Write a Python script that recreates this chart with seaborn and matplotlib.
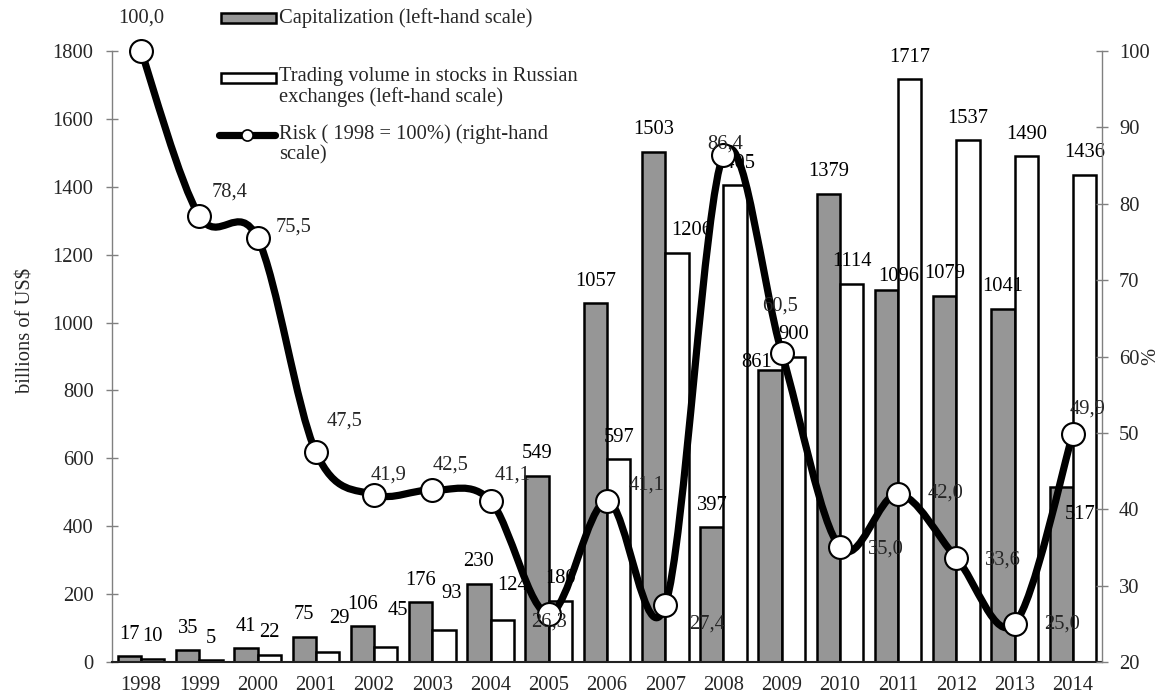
import numpy as np
import pandas as pd
import matplotlib
matplotlib.use("Agg")
import matplotlib.pyplot as plt
import seaborn as sns
from matplotlib.path import Path
from matplotlib.patches import PathPatch, Rectangle
from matplotlib.lines import Line2D

# ---------------- data ----------------
years = [str(y) for y in range(1998, 2015)]
capitalization = [17, 35, 41, 75, 106, 176, 230, 549, 1057, 1503, 397, 861, 1379, 1096, 1079, 1041, 517]
trading_volume = [10, 5, 22, 29, 45, 93, 124, 180, 597, 1206, 1405, 900, 1114, 1717, 1537, 1490, 1436]
risk = [100.0, 78.4, 75.5, 47.5, 41.9, 42.5, 41.1, 26.3, 41.1, 27.4, 86.4, 60.5, 35.0, 42.0, 33.6, 25.0, 49.9]

cap_name = "Capitalization (left-hand scale)"
vol_name = "Trading volume in stocks in Russian\nexchanges (left-hand scale)"
risk_name = "Risk ( 1998 = 100%) (right-hand\nscale)"
left_ticks = list(range(0, 1801, 200))
right_ticks = list(range(20, 101, 10))

# ---------------- styling / layout ----------------
W, H = 1168, 696
GRAY = "#969696"
AXC = "#808080"
FS = 14.8

sns.set_theme(style="white")
plt.rcParams["font.family"] = ["Liberation Serif", "DejaVu Serif"]
plt.rcParams["font.size"] = FS

# label nudges in pixels (dx, dy up) relative to default placement
cap_nudge = {"2009": (-13, -15), "2011": (12, -9), "2014": (19, -50)}
vol_nudge = {"2001": (12, 12), "2002": (12, 14), "2003": (8, 15), "2004": (10, 12), "2007": (15, 0)}
risk_offsets = [(0, 33), (30, 24), (36, 11), (29, 31), (15, 20), (18, 25), (22, 26), (0, -8),
                (40, 16), (42, -19), (2, 11), (-2, 47), (46, -2), (47, 1), (46, -2), (47, 0), (15, 25)]

fig = plt.figure(figsize=(W / 100, H / 100), dpi=100)
fig.patch.set_facecolor("white")
ax = fig.add_axes([112 / W, 1 - 662 / H, 990 / W, 611 / H])

df = pd.DataFrame({
    "year": years * 2,
    "series": [cap_name] * len(years) + [vol_name] * len(years),
    "value": capitalization + trading_volume,
})
sns.barplot(data=df, x="year", y="value", hue="series", hue_order=[cap_name, vol_name],
            palette=[GRAY, "white"], edgecolor="black", linewidth=1.8, saturation=1,
            width=0.8, gap=0, legend=False, ax=ax)

# bar value labels
for cont, vals, nudge in zip(ax.containers, [capitalization, trading_volume], [cap_nudge, vol_nudge]):
    for j, p in enumerate(cont.patches):
        dx, dy = nudge.get(years[j], (0, 0))
        ax.annotate(str(vals[j]), xy=(p.get_x() + p.get_width() / 2, p.get_height()),
                    xytext=(dx, 22 + dy), textcoords="offset pixels",
                    ha="center", va="center", fontsize=FS, color="black")

ax.set_xlim(-0.5, len(years) - 0.5)
ax.set_ylim(0, 1800)
ax.set_yticks(left_ticks)
ax.set_xticks(range(len(years)))
ax.set_xticklabels(years)
ax.set_xticks(np.arange(-0.5, len(years), 1.0), minor=True)
ax.set_xlabel("")
ax.set_ylabel("billions of US$", fontsize=FS)
ax.yaxis.set_label_coords((36 - 112) / 990, (662 - 330) / 611)
ax.tick_params(axis="x", which="major", length=0, pad=10.3, labelsize=FS)
ax.tick_params(axis="x", which="minor", direction="inout", length=7, width=1.0, color="#333333")
ax.tick_params(axis="y", direction="inout", length=8.6, width=1.0, color=AXC, pad=9.0,
               labelsize=FS, left=True)
for s in ["top", "right"]:
    ax.spines[s].set_visible(False)
ax.spines["left"].set_color(AXC)
ax.spines["left"].set_linewidth(1.0)
ax.spines["bottom"].set_color("#222222")
ax.spines["bottom"].set_linewidth(1.5)

# ---------------- risk line (right axis) ----------------
ax2 = ax.twinx()
ax2.set_ylim(20, 100)
ax2.set_yticks(right_ticks)
ax2.tick_params(axis="y", direction="inout", length=8.6, width=1.0, color=AXC, pad=8,
                labelsize=FS, right=True)
for s in ["top", "left", "bottom"]:
    ax2.spines[s].set_visible(False)
ax2.spines["right"].set_color(AXC)
ax2.spines["right"].set_linewidth(1.0)
ax2.set_ylabel("%", fontsize=FS)
ax2.yaxis.set_label_coords((1141 - 112) / 990, 0.5)

xs = np.arange(len(risk), dtype=float)
ys = np.asarray(risk, dtype=float)
n = len(xs)
verts = [(xs[0], ys[0])]
codes = [Path.MOVETO]
for i in range(n - 1):
    i0, i3 = max(i - 1, 0), min(i + 2, n - 1)
    c1 = (xs[i] + (xs[i + 1] - xs[i0]) / 6, ys[i] + (ys[i + 1] - ys[i0]) / 6)
    c2 = (xs[i + 1] - (xs[i3] - xs[i]) / 6, ys[i + 1] - (ys[i3] - ys[i]) / 6)
    verts += [c1, c2, (xs[i + 1], ys[i + 1])]
    codes += [Path.CURVE4] * 3
ax2.add_patch(PathPatch(Path(verts, codes), fill=False, edgecolor="black", lw=5.2,
                        capstyle="round", joinstyle="round", zorder=3))
ax2.plot(xs, ys, linestyle="none", marker="o", ms=16.5, mfc="white", mec="black",
         mew=1.5, zorder=4, clip_on=False)
for i, v in enumerate(risk):
    dx, dy = risk_offsets[i]
    ax2.annotate(f"{v:.1f}".replace(".", ","), xy=(xs[i], v), xytext=(dx, dy),
                 textcoords="offset pixels", ha="center", va="center", fontsize=FS,
                 zorder=5, annotation_clip=False)

# ---------------- legend (manual, figure pixels) ----------------
def fx(x):
    return x / W


def fy(y):
    return 1 - y / H


fig.add_artist(Rectangle((fx(221), fy(23)), 55 / W, 10 / H, facecolor=GRAY, edgecolor="black",
                         lw=1.8, transform=fig.transFigure))
fig.add_artist(Rectangle((fx(221), fy(83)), 55 / W, 10 / H, facecolor="white", edgecolor="black",
                         lw=1.8, transform=fig.transFigure))
fig.add_artist(Line2D([fx(219), fx(275)], [fy(135), fy(135)], lw=5.2, color="black",
                      solid_capstyle="round", transform=fig.transFigure))
fig.add_artist(Line2D([fx(247)], [fy(135)], marker="o", ms=8, mfc="white", mec="black",
                      mew=1.2, transform=fig.transFigure))

for name, y0 in [(cap_name, 18), (vol_name, 77), (risk_name, 134)]:
    for k, line in enumerate(name.split("\n")):
        fig.text(fx(279), fy(y0 + 20.5 * k), line, ha="left", va="center", fontsize=FS)

fig.savefig("out.png", dpi=100, facecolor="white")
